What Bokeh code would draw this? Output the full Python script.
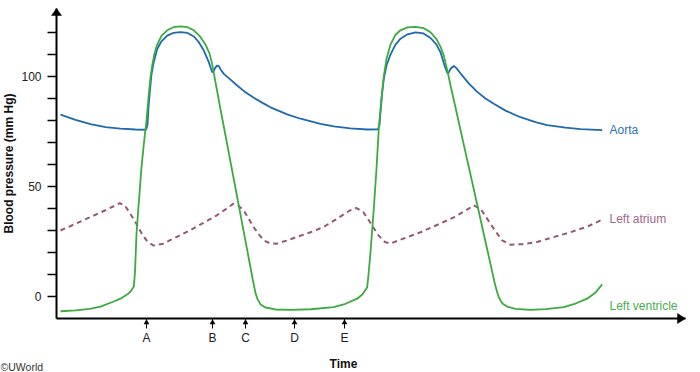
from bokeh.plotting import figure
from bokeh.models import Range1d, FixedTicker, Label, PolyAnnotation
from bokeh.core.properties import value
from bokeh.embed import file_html
from bokeh.resources import INLINE

# ---------------- data (time in arbitrary units, pressure in mm Hg) ----------------
aorta_t = [4, 19, 34, 49, 64, 79, 89.5, 91, 92, 93.5, 95, 97, 100.7, 105, 110.7, 117, 124,
           131, 137.3, 142, 147.3, 152.3, 154.5, 155.7, 157, 159, 160.7, 162.5, 164, 167.3,
           174, 180.7, 189, 197.3, 206, 214, 230.7, 244, 264, 277.3, 294, 310.7, 321.5,
           323, 324, 325.5, 327.3, 330, 334, 339, 344, 351, 359, 367, 374, 380, 384, 388,
           390.5, 392, 394, 397.3, 400, 404, 412, 420.7, 429, 437.3, 449, 464, 479, 490.7,
           509, 524, 545.7]
aorta_p = [82.7, 80.3, 78.4, 77.0, 76.3, 75.9, 75.8, 78, 86, 94, 101, 106, 112.5, 116, 118.6,
           119.8, 120.2, 119.8, 118.2, 115.8, 111.8, 106.5, 103.5, 102.0, 102.3, 104.2, 105.0,
           104.6, 103.3, 101.2, 98.6, 95.9, 92.8, 90.3, 88, 86, 82.8, 80.8, 78.5, 77.3, 76.4,
           75.9, 76.0, 78, 84, 92, 99, 105, 110, 114.5, 117.2, 119.2, 120.1, 119.6, 117.5,
           114.5, 111, 105, 102, 101.6, 103.5, 104.8, 103.8, 101.4, 97, 93, 90, 87.6, 84.5,
           81.5, 79.3, 77.9, 76.8, 76.1, 75.6]

lv_t = [4, 19, 33.3, 44, 56.7, 64, 71.7, 75, 77.3, 78.5, 80, 82.5, 85, 87.5, 90, 92.3, 94,
        95.7, 98, 100.7, 105, 110.7, 117, 124, 131, 137.3, 143, 149, 153, 155.7, 157.3, 164,
        169, 174, 179, 184, 189, 194, 197, 199, 201, 204, 209, 219, 234, 254, 277.3, 289,
        300.7, 306, 310.7, 312, 314, 317.3, 320, 322.3, 325, 327.3, 330, 334, 339, 344, 351,
        359, 367, 374, 380, 384, 387.3, 390.7, 394, 399, 404, 409, 414, 419, 424, 429, 434,
        438, 440.7, 443, 446, 450.7, 459, 474, 489, 507.3, 519, 530.7, 539, 545.7]
lv_p = [-6.7, -6.3, -5.6, -4.6, -2.4, -1.0, 1.2, 2.8, 4.5, 11, 28.5, 44, 58.8, 70, 80, 92,
        99.7, 105, 110.5, 114.5, 118.5, 121, 122.4, 122.8, 122.4, 121, 118.5, 114.5, 110.5,
        105.5, 101.5, 85.1, 73.2, 61.2, 49.2, 37.2, 25.2, 13.2, 6.0, 1.6, -1.2, -3.6, -5.0,
        -5.9, -6.1, -5.8, -4.8, -3.3, -1, 1, 4.2, 10, 20, 40, 58, 76.5, 90, 100, 108, 114.5,
        119, 121, 122.3, 122.6, 122, 120.1, 117, 113.5, 109.5, 103, 96, 85.9, 75.7, 65.5,
        55.4, 45.2, 35.1, 24.9, 14.7, 6.5, 1.8, -1.0, -3.2, -4.6, -5.6, -6.1, -5.7, -4.8,
        -3.2, -1, 1.8, 5.5]

la_t = [4, 33.3, 49, 63.3, 68.3, 74, 80, 85, 90, 96.7, 106.7, 119, 133.3, 147, 160, 169,
        176.7, 181.7, 187.3, 193.3, 198, 203.3, 208, 213.3, 220, 230, 240, 254, 266.7, 280,
        293.3, 300, 306.7, 311, 316.7, 322, 328.3, 334, 349, 364, 381, 397.3, 409, 417.3,
        424, 429, 434, 440, 445.7, 454, 466, 480.7, 497, 514, 531, 546]
la_p = [30, 36, 39.2, 42.4, 41.4, 37.5, 33, 28.8, 25.5, 23.2, 24, 26.8, 30, 33.5, 36.8, 39.6,
        42.1, 41.4, 39.1, 34.5, 31, 27.7, 25.3, 24.2, 24, 25.4, 27, 29.2, 31.5, 35.2, 39.1,
        40.2, 38.4, 35.5, 31.5, 27.8, 24.8, 24.1, 26.7, 29.2, 32.6, 36, 39, 41.4, 39.8, 36.5,
        33, 29, 25.5, 23.5, 23.8, 24.8, 27, 29.2, 31.8, 35]

event_t = [90, 156, 189, 238, 288]
event_labels = ["A", "B", "C", "D", "E"]

y_ticks = [0, 10, 20, 30, 40, 50, 60, 70, 80, 90, 100, 110, 120]
y_tick_labels = {0: "0", 50: "50", 100: "100"}

series_names = ["Aorta", "Left atrium", "Left ventricle"]

# ---------------- styling / layout ----------------
FONT = "Liberation Sans"
C_AORTA, C_AORTA_TXT = "#1f6aae", "#2b73b8"
C_LV, C_LV_TXT = "#3aab3e", "#45ae4a"
C_LA, C_LA_TXT = "#955777", "#a0678c"

W, H = 700, 372
PX_X = 1.0          # screen px per time unit
PX_Y = 2.2          # screen px per mm Hg
ORIGIN_X, ORIGIN_Y = 56, 296   # screen position of (t=0, P=0)

T_AXIS_END = 629    # time axis extent (arrow tip)
P_AXIS_TOP = 130.9  # pressure axis extent (arrow tip)
P_AXIS_BASE = -10   # where the time axis crosses

x_range = Range1d(-ORIGIN_X / PX_X, (W - ORIGIN_X) / PX_X)
y_range = Range1d((ORIGIN_Y - H) / PX_Y, ORIGIN_Y / PX_Y)

p = figure(width=W, height=H, x_range=x_range, y_range=y_range,
           output_backend="svg", toolbar_location=None,
           min_border_left=0, min_border_right=0, min_border_top=0, min_border_bottom=0)
p.background_fill_color = "white"
p.border_fill_color = "white"
p.outline_line_color = None
p.grid.visible = False

# y axis (fixed at t = 0)
ya = p.yaxis[0]
ya.fixed_location = 0
ya.bounds = (P_AXIS_BASE, P_AXIS_TOP)
ya.ticker = FixedTicker(ticks=y_ticks)
ya.major_label_overrides = {t: y_tick_labels.get(t, "") for t in y_ticks}
ya.axis_line_width = 2
ya.axis_line_color = "black"
ya.major_tick_out = 9
ya.major_tick_in = 0
ya.major_tick_line_width = 1.5
ya.major_tick_line_color = "black"
ya.minor_tick_line_color = None
ya.major_label_standoff = 6
ya.major_label_text_font = FONT
ya.major_label_text_font_size = "12px"
ya.major_label_text_color = "#222222"
ya.axis_label = "Blood pressure (mm Hg)"
ya.axis_label_text_font = FONT
ya.axis_label_text_font_size = "12px"
ya.axis_label_text_font_style = "bold"
ya.axis_label_text_color = "#111111"
ya.axis_label_standoff = 2

# time axis (fixed at P = -10); ticks at the event times act as arrow shafts
xa = p.xaxis[0]
xa.fixed_location = P_AXIS_BASE
xa.bounds = (0, T_AXIS_END)
xa.ticker = FixedTicker(ticks=event_t)
xa.major_label_overrides = {t: l for t, l in zip(event_t, event_labels)}
xa.axis_line_width = 2
xa.axis_line_color = "black"
xa.major_tick_out = 10
xa.major_tick_in = 0
xa.major_tick_line_width = 1
xa.major_tick_line_color = "black"
xa.minor_tick_line_color = None
xa.major_label_standoff = 2
xa.major_label_text_font = FONT
xa.major_label_text_font_size = "12px"
xa.major_label_text_color = "#222222"


def head(xs, ys):
    p.add_layout(PolyAnnotation(xs=xs, ys=ys, fill_color="black", fill_alpha=1,
                                line_color="black", line_width=0.5, line_alpha=1))


# axis arrow heads
head([-5 / PX_X, 5 / PX_X, 0], [P_AXIS_TOP - 7 / PX_Y, P_AXIS_TOP - 7 / PX_Y, P_AXIS_TOP])
head([T_AXIS_END - 8 / PX_X, T_AXIS_END - 8 / PX_X, T_AXIS_END],
     [P_AXIS_BASE - 5 / PX_Y, P_AXIS_BASE + 5 / PX_Y, P_AXIS_BASE])

# small arrow heads on the event ticks
for t in event_t:
    head([t - 2.5 / PX_X, t + 2.5 / PX_X, t],
         [P_AXIS_BASE - 5.5 / PX_Y, P_AXIS_BASE - 5.5 / PX_Y, P_AXIS_BASE - 1.3 / PX_Y])

# curves
p.line(la_t, la_p, line_color=C_LA, line_width=2, line_dash="5 4")
p.line(aorta_t, aorta_p, line_color=C_AORTA, line_width=1.8)
p.line(lv_t, lv_p, line_color=C_LV, line_width=1.8)

# series labels
label_y = [75.5, 35.3, -4.4]
label_colors = [C_AORTA_TXT, C_LA_TXT, C_LV_TXT]
p.text(x=[553] * 3, y=label_y, text=series_names, text_color=label_colors,
       text_font=value(FONT), text_font_size="12px", text_baseline="middle", text_align="left")

# bottom texts
p.add_layout(Label(x=287, y=(ORIGIN_Y - 363) / PX_Y, text="Time", text_font=FONT,
                   text_font_size="12px", text_font_style="bold", text_align="center",
                   text_baseline="middle", text_color="#111111"))
p.add_layout(Label(x=-ORIGIN_X / PX_X, y=(ORIGIN_Y - 366) / PX_Y, text="©UWorld",
                   text_font=FONT, text_font_size="10.5px", text_align="left",
                   text_baseline="middle", text_color="#333333"))

open("out.html", "w").write(file_html(p, INLINE))
